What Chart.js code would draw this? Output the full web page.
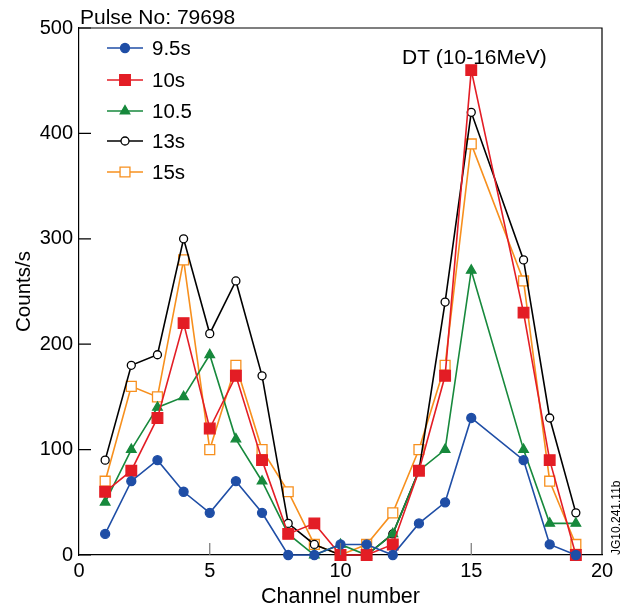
<!DOCTYPE html>
<html>
<head>
<meta charset="utf-8">
<script src="https://cdn.jsdelivr.net/npm/chart.js@4/dist/chart.umd.min.js"></script>
<style>
  html, body { margin: 0; padding: 0; background: #fff; }
  canvas { display: block; }
</style>
</head>
<body>
<canvas id="chart" width="628" height="612"></canvas>
<script>
// channel numbers (no point at 16)
const channels = [1, 2, 3, 4, 5, 6, 7, 8, 9, 10, 11, 12, 13, 14, 15, 17, 18, 19];

// counts/s per series
const s95  = [20, 70, 90, 60, 40, 70, 40, 0, 0, 10, 10, 0, 30, 50, 130, 90, 10, 0];
const s10  = [60, 80, 130, 220, 120, 170, 90, 20, 30, 0, 0, 10, 80, 170, 460, 230, 90, 0];
const s105 = [50, 100, 140, 150, 190, 110, 70, 20, 0, 10, 0, 20, 80, 100, 270, 100, 30, 30];
const s13  = [90, 180, 190, 300, 210, 260, 170, 30, 10, 0, 0, 20, 80, 240, 420, 280, 130, 40];
const s15  = [70, 160, 150, 280, 100, 180, 100, 60, 10, 0, 10, 40, 100, 180, 390, 260, 70, 10];

const seriesNames = ['9.5s', '10s', '10.5', '13s', '15s'];
const yTicks = [0, 100, 200, 300, 400, 500];
const xTicks = [0, 5, 10, 15, 20];

const FONT = '"Liberation Sans", Arial, Helvetica, sans-serif';

const styles = [
    { color: '#1f4ea6', point: 'circle', radius: 4.5, fill: '#1f4ea6' },
    { color: '#e31d25', point: 'rect', radius: 7.5, fill: '#e31d25' },
    { color: '#17893c', point: 'triangle', radius: 5.5, fill: '#17893c' },
    { color: '#000000', point: 'circle', radius: 4, fill: '#ffffff' },
    { color: '#f7901e', point: 'rect', radius: 7, fill: '#ffffff' }
];

function toPoints(vals) {
    return channels.map((c, i) => ({ x: c, y: vals[i] }));
}

const allSeries = [s95, s10, s105, s13, s15];

const datasets = allSeries.map((vals, i) => ({
    label: seriesNames[i],
    data: toPoints(vals),
    borderColor: styles[i].color,
    backgroundColor: styles[i].fill,
    pointBorderColor: styles[i].color,
    pointBackgroundColor: styles[i].fill,
    pointStyle: styles[i].point,
    pointRadius: styles[i].radius,
    pointBorderWidth: 1.3,
    borderWidth: 1.6,
    tension: 0,
    clip: false
}));

// frame, inward ticks, legend and labels
const decorations = {
    id: 'decorations',
    afterDraw(chart) {
        const ctx = chart.ctx;
        const a = chart.chartArea;
        const xs = chart.scales.x;
        const ys = chart.scales.y;
        ctx.save();

        // top and right frame
        ctx.strokeStyle = '#000';
        ctx.lineWidth = 1.2;
        ctx.beginPath();
        ctx.moveTo(a.left, a.top);
        ctx.lineTo(a.right, a.top);
        ctx.lineTo(a.right, a.bottom);
        ctx.stroke();

        // y ticks pointing inward
        ctx.beginPath();
        yTicks.forEach(v => {
            const y = ys.getPixelForValue(v);
            ctx.moveTo(a.left, y);
            ctx.lineTo(a.left + 12, y);
        });
        ctx.stroke();

        // x ticks pointing inward (grey)
        ctx.strokeStyle = '#777';
        ctx.beginPath();
        xTicks.slice(1, -1).forEach(v => {
            const x = xs.getPixelForValue(v);
            ctx.moveTo(x, a.bottom);
            ctx.lineTo(x, a.bottom - 12);
        });
        ctx.stroke();

        // legend
        const rowY = [48, 80, 111, 141, 172];
        chart.data.datasets.forEach((ds, i) => {
            const y = rowY[i];
            ctx.strokeStyle = ds.borderColor;
            ctx.lineWidth = 1.6;
            ctx.beginPath();
            ctx.moveTo(107, y);
            ctx.lineTo(143, y);
            ctx.stroke();
            ctx.lineWidth = 1.3;
            ctx.fillStyle = ds.pointBackgroundColor;
            ctx.strokeStyle = ds.pointBorderColor;
            Chart.helpers.drawPoint(ctx, {
                pointStyle: ds.pointStyle,
                radius: ds.pointRadius,
                rotation: 0,
                borderWidth: 1.3
            }, 125, y);
            ctx.fillStyle = '#000';
            ctx.font = '20.5px ' + FONT;
            ctx.textAlign = 'left';
            ctx.textBaseline = 'middle';
            ctx.fillText(ds.label, 152, y + 1);
        });

        // annotations
        ctx.fillStyle = '#000';
        ctx.font = '21px ' + FONT;
        ctx.textAlign = 'left';
        ctx.textBaseline = 'alphabetic';
        ctx.fillText('Pulse No: 79698', 80, 24);
        ctx.fillText('DT (10-16MeV)', 402, 64);

        ctx.font = '12px ' + FONT;
        ctx.translate(617, 555);
        ctx.rotate(-Math.PI / 2);
        ctx.textBaseline = 'middle';
        ctx.fillText('JG10.241.11b', 0, 0);
        ctx.restore();
    }
};

new Chart(document.getElementById('chart'), {
    type: 'line',
    data: { datasets: datasets },
    options: {
        responsive: false,
        animation: false,
        layout: { padding: { top: 28, right: 26, left: 0, bottom: 0 } },
        plugins: {
            legend: { display: false },
            tooltip: { enabled: false }
        },
        scales: {
            x: {
                type: 'linear',
                min: 0,
                max: 20,
                afterFit: s => { s.height = 57; },
                afterBuildTicks: s => { s.ticks = xTicks.map(v => ({ value: v })); },
                grid: { display: false, drawTicks: false, tickLength: 0 },
                border: { display: true, color: '#000', width: 1.2 },
                ticks: { color: '#000', padding: 4, font: { family: FONT, size: 20 } },
                title: {
                    display: true,
                    text: 'Channel number',
                    color: '#000',
                    padding: { top: 0, bottom: 2 },
                    font: { family: FONT, size: 21.5 }
                }
            },
            y: {
                min: 0,
                max: 500,
                afterFit: s => { s.width = 79; },
                afterBuildTicks: s => { s.ticks = yTicks.map(v => ({ value: v })); },
                grid: { display: false, drawTicks: false, tickLength: 0 },
                border: { display: true, color: '#000', width: 1.2 },
                ticks: { color: '#000', padding: 6, font: { family: FONT, size: 20 } },
                title: {
                    display: true,
                    text: 'Counts/s',
                    color: '#000',
                    padding: { top: 12, bottom: 0 },
                    font: { family: FONT, size: 20.5 }
                }
            }
        }
    },
    plugins: [decorations]
});
</script>
</body>
</html>
